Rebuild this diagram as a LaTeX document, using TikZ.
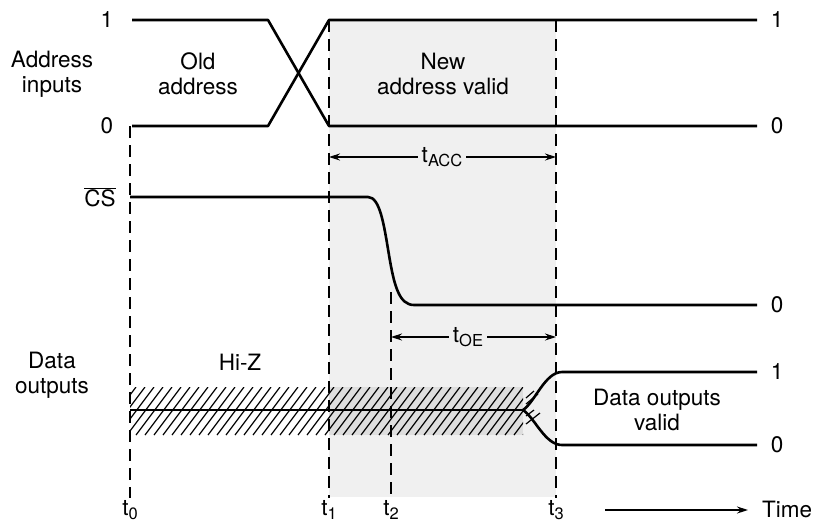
\documentclass[tikz,border=0pt]{standalone}
\usepackage{fontspec}
\setmainfont{TeX Gyre Heros}
\usetikzlibrary{arrows.meta}
\newcommand{\tsub}[1]{\raisebox{-0.35ex}{\fontsize{16.5}{17}\selectfont #1}}
\tikzset{
  sig/.style={line width=2.6pt, line join=round},
  tline/.style={line width=1.7pt, dash pattern=on 12pt off 7pt},
  lbl/.style={font=\fontsize{22.5}{25}\selectfont, align=center, inner sep=1pt},
  dim/.style={line width=1.2pt, -{Stealth[length=11pt,width=7pt]}},
  hatch/.style={line width=1.2pt},
}
\begin{document}
\begin{tikzpicture}[x=1pt,y=-1pt]
\useasboundingbox (0,0) rectangle (817,523);
% shaded region
\fill[black!6] (329,20) rectangle (556,497);
\fill[black!13] (329,387) rectangle (523,435);
% time lines
\coordinate (t0a) at (130,126); \coordinate (t0b) at (130,498);
\coordinate (t1a) at (329,20);  \coordinate (t1b) at (329,498);
\coordinate (t2a) at (391,292); \coordinate (t2b) at (391,498);
\coordinate (t3a) at (556,20);  \coordinate (t3b) at (556,498);
\draw[tline] (t0a) -- (t0b);
\draw[tline] (t1a) -- (t1b);
\draw[tline] (t2a) -- (t2b);
\draw[tline] (t3a) -- (t3b);
% address inputs
\draw[sig] (132,20) -- (268,20) -- (329,126) -- (757,126);
\draw[sig] (132,126) -- (268,126) -- (329,20) -- (757,20);
\node[lbl] (a1l) at (107,20) {1};
\node[lbl] (a0l) at (107,126) {0};
\node[lbl] (a1r) at (777,20) {1};
\node[lbl] (a0r) at (777,126) {0};
\node[lbl] (addr) at (52,74) {Address\\inputs};
\node[lbl] (old) at (198,74) {Old\\address};
\node[lbl] (new) at (443,74) {New\\address valid};
% tACC
\node[lbl, inner sep=4pt] (tacc) at (442,157) {t\tsub{ACC}};
\draw[dim] (tacc.west) -- (t1a |- tacc);
\draw[dim] (tacc.east) -- (t3a |- tacc);
% CS
\node[lbl] (cs) at (100,197) {$\overline{\mbox{CS}}$};
\draw[sig] (130,197) -- (368,197) .. controls (380,197) and (384,225) .. (389,255)
  .. controls (394,285) and (399,305) .. (414,305) -- (757,305);
\node[lbl] (cs0) at (777,305) {0};
% tOE
\node[lbl, inner sep=4pt] (toe) at (468,337) {t\tsub{OE}};
\draw[dim] (toe.west) -- (t2a |- toe);
\draw[dim] (toe.east) -- (t3a |- toe);
% data outputs
\node[lbl] (data) at (52,375) {Data\\outputs};
\node[lbl] (hiz) at (240,362) {Hi-Z};
\begin{scope}
  \clip (130,387) rectangle (523,435);
  \foreach \x in {100,109,...,540} \draw[hatch] (\x,435) -- (\x+36,387);
\end{scope}
\draw[hatch] (526,404) -- (538,394);
\draw[hatch] (526,398) -- (534,391);
\draw[hatch] (526,416) -- (534,410);
\draw[hatch] (526,424) -- (540,413);
\draw[sig] (130,410) -- (523,410);
\draw[sig] (523,410) .. controls (535,402) and (545,372) .. (562,372) -- (757,372);
\draw[sig] (523,410) .. controls (535,418) and (545,445) .. (562,445) -- (757,445);
\node[lbl] (d1) at (777,372) {1};
\node[lbl] (d0) at (777,445) {0};
\node[lbl] (dv) at (657,410) {Data outputs\\valid};
% time axis labels
\node[lbl] (lt0) at (130,510) {t\tsub{0}};
\node[lbl] (lt1) at (329,510) {t\tsub{1}};
\node[lbl] (lt2) at (391,510) {t\tsub{2}};
\node[lbl] (lt3) at (556,510) {t\tsub{3}};
\node[lbl, anchor=west] (time) at (761,509) {Time};
\coordinate (ts) at (605,510);
\coordinate (te) at (748,510);
\draw[dim, line width=1.5pt] (ts) -- (te);
\end{tikzpicture}
\end{document}
